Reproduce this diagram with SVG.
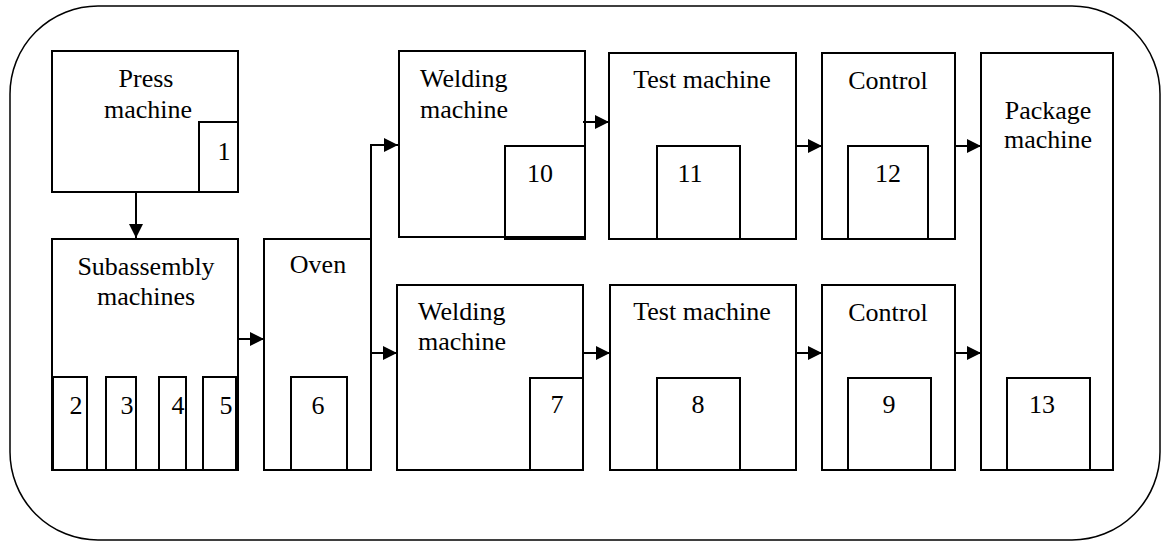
<svg xmlns="http://www.w3.org/2000/svg" width="1161" height="542" viewBox="0 0 1161 542" font-family="Liberation Serif, DejaVu Serif, serif" font-size="26">
<style>
.b{fill:#fff;stroke:#000;stroke-width:2}
.s{fill:none;stroke:#000;stroke-width:2}
.t{fill:#000}
.c{text-anchor:middle}
.ln{fill:none;stroke:#000;stroke-width:2}
</style>
<defs>
<marker id="ah" markerUnits="userSpaceOnUse" markerWidth="15" markerHeight="15" refX="14" refY="7" orient="auto">
<path d="M0,0 L14,7 L0,14 z" fill="#000"/>
</marker>
</defs>
<rect x="10" y="6" width="1150" height="534" rx="88" ry="88" fill="none" stroke="#000" stroke-width="1.5"/>
<g id="press">
<rect class="b" x="52" y="51" width="186" height="141"/>
<rect class="s" x="199" y="122" width="39" height="70"/>
<text class="t c" x="146" y="87">Press</text>
<text class="t c" x="148" y="118">machine</text>
<text class="t c" x="224" y="160">1</text>
</g>
<g id="subassembly">
<rect class="b" x="52" y="239" width="186" height="231"/>
<rect class="s" x="53" y="377" width="34" height="93"/>
<rect class="s" x="106" y="377" width="30" height="93"/>
<rect class="s" x="159" y="377" width="27" height="93"/>
<rect class="s" x="203" y="377" width="33" height="93"/>
<text class="t c" x="146" y="275">Subassembly</text>
<text class="t c" x="146" y="305">machines</text>
<text class="t c" x="76" y="414">2</text>
<text class="t c" x="127" y="414">3</text>
<text class="t c" x="178" y="414">4</text>
<text class="t c" x="226" y="414">5</text>
</g>
<g id="oven">
<rect class="b" x="264" y="239" width="107" height="231"/>
<rect class="s" x="291" y="377" width="56" height="93"/>
<text class="t c" x="318" y="273">Oven</text>
<text class="t c" x="318" y="414">6</text>
</g>
<g id="welding1">
<rect class="b" x="399" y="51" width="186" height="186"/>
<rect class="s" x="505" y="146" width="80" height="93"/>
<text class="t" x="420" y="87">Welding</text>
<text class="t" x="420" y="118">machine</text>
<text class="t c" x="540" y="182">10</text>
</g>
<g id="test1">
<rect class="b" x="609" y="53" width="187" height="186"/>
<rect class="s" x="657" y="146" width="83" height="93"/>
<text class="t c" x="702" y="88">Test machine</text>
<text class="t c" x="690" y="182">11</text>
</g>
<g id="control1">
<rect class="b" x="822" y="53" width="133" height="186"/>
<rect class="s" x="848" y="146" width="80" height="93"/>
<text class="t c" x="888" y="89">Control</text>
<text class="t c" x="888" y="182">12</text>
</g>
<g id="package">
<rect class="b" x="981" y="53" width="132" height="417"/>
<rect class="s" x="1007" y="378" width="83" height="92"/>
<text class="t c" x="1048" y="119">Package</text>
<text class="t c" x="1048" y="148">machine</text>
<text class="t c" x="1042" y="413">13</text>
</g>
<g id="welding2">
<rect class="b" x="397" y="285" width="186" height="185"/>
<rect class="s" x="530" y="378" width="53" height="92"/>
<text class="t" x="418" y="320">Welding</text>
<text class="t" x="418" y="350">machine</text>
<text class="t c" x="557" y="413">7</text>
</g>
<g id="test2">
<rect class="b" x="610" y="285" width="186" height="185"/>
<rect class="s" x="657" y="378" width="83" height="92"/>
<text class="t c" x="702" y="320">Test machine</text>
<text class="t c" x="698" y="413">8</text>
</g>
<g id="control2">
<rect class="b" x="822" y="285" width="133" height="185"/>
<rect class="s" x="848" y="378" width="83" height="92"/>
<text class="t c" x="888" y="321">Control</text>
<text class="t c" x="889" y="413">9</text>
</g>
<g id="connectors">
<line class="ln" x1="136" y1="192" x2="136" y2="238" marker-end="url(#ah)"/>
<line class="ln" x1="238" y1="339" x2="264" y2="339" marker-end="url(#ah)"/>
<polyline class="ln" points="371,239 371,145 398,145" marker-end="url(#ah)"/>
<line class="ln" x1="371" y1="353" x2="397" y2="353" marker-end="url(#ah)"/>
<line class="ln" x1="583" y1="122" x2="609" y2="122" marker-end="url(#ah)"/>
<line class="ln" x1="796" y1="146" x2="822" y2="146" marker-end="url(#ah)"/>
<line class="ln" x1="955" y1="146" x2="981" y2="146" marker-end="url(#ah)"/>
<line class="ln" x1="583" y1="353" x2="610" y2="353" marker-end="url(#ah)"/>
<line class="ln" x1="796" y1="353" x2="822" y2="353" marker-end="url(#ah)"/>
<line class="ln" x1="955" y1="353" x2="981" y2="353" marker-end="url(#ah)"/>
</g>
</svg>
